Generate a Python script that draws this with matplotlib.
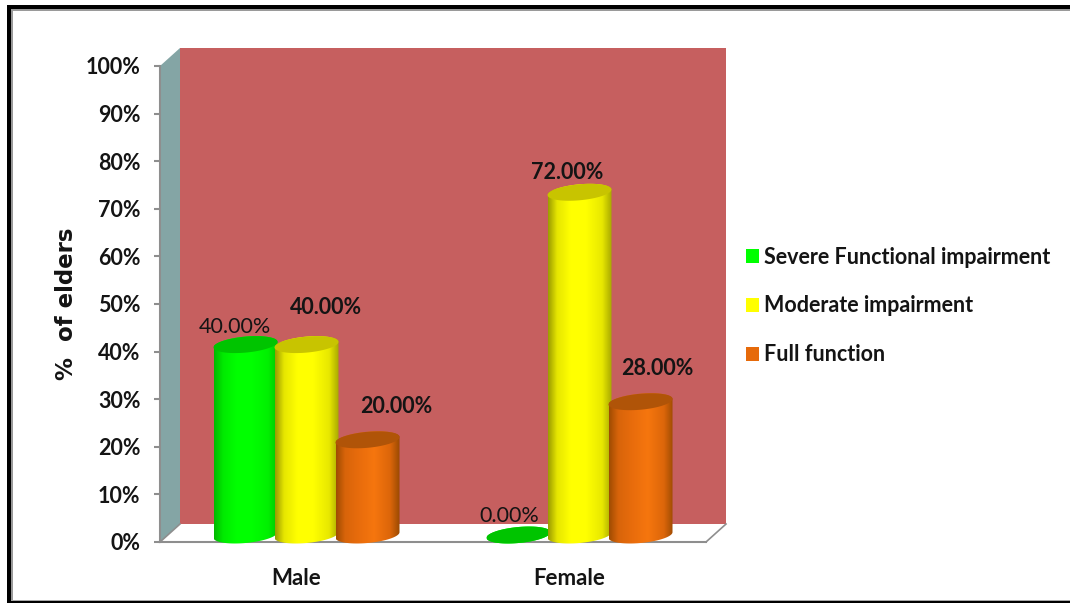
"""Grouped 3D-style cylinder chart of functional status of elders by sex."""

import matplotlib
matplotlib.use("Agg")
import matplotlib.pyplot as plt
from matplotlib.colors import LinearSegmentedColormap
from matplotlib.patches import Patch, PathPatch, Rectangle
from matplotlib.path import Path
import numpy as np

CATEGORIES = ["Male", "Female"]
SERIES = ["Severe Functional impairment", "Moderate impairment", "Full function"]
SEVERE = [40.0, 0.0]
MODERATE = [40.0, 72.0]
FULL = [20.0, 28.0]
Y_TICKS = [0, 10, 20, 30, 40, 50, 60, 70, 80, 90, 100]

W, H = 1070, 603
PX_X = 2 / 546        # data units per pixel, x
PX_Y = 100 / 476      # data units per pixel, y
DEPTH_X = 20 * PX_X
DEPTH_Y = 18 * PX_Y

BAR_STEP = 61 * PX_X
BAR_A = 32 * PX_X
ELL_B = 8 * PX_Y
ELL_K = 2.8 * PX_Y
BASE_X = 10 * PX_X
BASE_Y = 7 * PX_Y

SHADES = [
    ["#00b800", "#00ea00", "#00ff00", "#00ff00", "#00f000", "#00c800"],
    ["#9c9c00", "#e6e600", "#ffff00", "#ffff00", "#e8e800", "#a8a800"],
    ["#a04c02", "#d8640a", "#e86c0c", "#f6760e", "#dc660a", "#9a4a02"],
]
STOPS = [0.0, 0.14, 0.35, 0.6, 0.85, 1.0]
TOPS = ["#00c400", "#c8c400", "#b05408"]
KEYS = ["#00ff00", "#ffff00", "#e66a0a"]
AXIS_GREY = "#8e8e8e"
TEXT = "#141414"

# label offsets from the top centre of each cylinder, in points
LABEL_OFFSETS = [
    [(-8, 13), (14, 27), (21, 24)],
    [(-7, 14), (-9, 14), (12, 24)],
]
LABEL_WEIGHTS = ["normal", "bold", "bold"]
FONT_SIZE = 15.5

plt.rcParams["font.family"] = ["Lato", "DejaVu Sans"]


def ellipse_xy(cx, cy, t):
    return cx + BAR_A * np.cos(t), cy + ELL_B * np.sin(t) + ELL_K * np.cos(t)


def draw_cylinder(ax, cx, value, s, z):
    base = BASE_Y
    top = base + value
    x0, y0 = ellipse_xy(cx, base, np.linspace(np.pi, 2 * np.pi, 60))
    x1, y1 = ellipse_xy(cx, top, np.linspace(0, np.pi, 60))
    verts = np.column_stack([np.r_[x0, x1], np.r_[y0, y1]])
    outline = PathPatch(Path(np.vstack([verts, verts[0]]), closed=True), transform=ax.transData)

    cmap = LinearSegmentedColormap.from_list(f"cyl{s}", list(zip(STOPS, SHADES[s])))
    im = ax.imshow(
        np.linspace(0, 1, 128)[None, :], cmap=cmap, aspect="auto", interpolation="bilinear",
        extent=(cx - BAR_A, cx + BAR_A, base - 3 * ELL_B, top + 3 * ELL_B), zorder=z,
    )
    im.set_clip_path(outline)
    im.set_clip_box(ax.figure.bbox)

    xt, yt = ellipse_xy(cx, top, np.linspace(0, 2 * np.pi, 120))
    ax.fill(xt, yt, color=TOPS[s], lw=0, zorder=z + 0.1, clip_on=False)


fig = plt.figure(figsize=(W / 100, H / 100), dpi=100)
ax = fig.add_axes([160 / W, 1 - 542 / H, 546 / W, 476 / H])
ax.patch.set_visible(False)

# outer frame
for (x, y, w, h), col in [
    ((7, 5, W - 7, 4), "black"), ((11, 9, W - 11, 2), "#9a9a9a"),
    ((7, 5, 4, H - 5), "black"), ((11, 9, 1.5, H - 9), "#9a9a9a"),
    ((7, 601, W - 7, 2), "black"), ((11, 599.5, W - 11, 1.5), "#a8a8a8"),
]:
    fig.add_artist(Rectangle((x / W, 1 - (y + h) / H), w / W, h / H,
                             transform=fig.transFigure, color=col, lw=0))

# box walls and floor
ax.fill([DEPTH_X, 2 + DEPTH_X, 2 + DEPTH_X, DEPTH_X],
        [DEPTH_Y, DEPTH_Y, 100 + DEPTH_Y, 100 + DEPTH_Y],
        color="#c65f5f", lw=0, zorder=1, clip_on=False)
ax.fill([0, DEPTH_X, DEPTH_X, 0], [0, DEPTH_Y, 100 + DEPTH_Y, 100],
        color="#84a5a5", lw=0, zorder=1, clip_on=False)
ax.fill([0, 2, 2 + DEPTH_X, DEPTH_X], [0, 0, DEPTH_Y, DEPTH_Y],
        color="white", lw=0, zorder=1, clip_on=False)
ax.plot([0, DEPTH_X], [0, DEPTH_Y], color=AXIS_GREY, lw=1.2, zorder=1.5, clip_on=False)
ax.plot([2, 2 + DEPTH_X], [0, DEPTH_Y], color=AXIS_GREY, lw=1.2, zorder=1.5, clip_on=False)

# cylinders, left to right so each one overlaps the previous
values = [SEVERE, MODERATE, FULL]
z = 3
for c in range(len(CATEGORIES)):
    for s in range(len(SERIES)):
        v = values[s][c]
        cx = c + 0.5 + (s - 1) * BAR_STEP + BASE_X
        draw_cylinder(ax, cx, v, s, z)
        z += 1
        ax.annotate(
            f"{v:.2f}%", (cx, BASE_Y + v), xytext=LABEL_OFFSETS[c][s],
            textcoords="offset points", ha="center", va="center",
            fontsize=FONT_SIZE, fontweight=LABEL_WEIGHTS[s], color=TEXT,
            annotation_clip=False, zorder=30,
        )

ax.set_xlim(0, 2)
ax.set_ylim(0, 100)
for side in ["top", "right"]:
    ax.spines[side].set_visible(False)
for side in ["left", "bottom"]:
    ax.spines[side].set_color(AXIS_GREY)
    ax.spines[side].set_linewidth(1.5)

ax.set_yticks(Y_TICKS)
ax.set_yticklabels([f"{t}%" for t in Y_TICKS], fontsize=FONT_SIZE, fontweight="bold", color=TEXT)
ax.tick_params(axis="y", length=4, width=1.5, color=AXIS_GREY, pad=10)
ax.set_xticks([0.5, 1.5])
ax.set_xticklabels(CATEGORIES, fontsize=FONT_SIZE + 0.5, fontweight="bold", color=TEXT)
ax.tick_params(axis="x", length=0, pad=19)

ax.set_ylabel("%  of elders", fontsize=16.5, fontweight="bold", color=TEXT, family="DejaVu Sans")
ax.yaxis.set_label_coords(-82 / 546, (542 - 304) / 476)

handles = [Patch(color=k, lw=0) for k in KEYS]
fig.legend(
    handles, SERIES, loc="center left", bbox_to_anchor=(746 / W, 1 - 306 / H),
    frameon=False, prop={"size": FONT_SIZE, "weight": "bold"}, labelcolor=TEXT,
    borderpad=0, borderaxespad=0,
    handlelength=0.62, handleheight=0.65, handletextpad=0.22, labelspacing=1.29,
)

fig.savefig("out.png", dpi=100)
